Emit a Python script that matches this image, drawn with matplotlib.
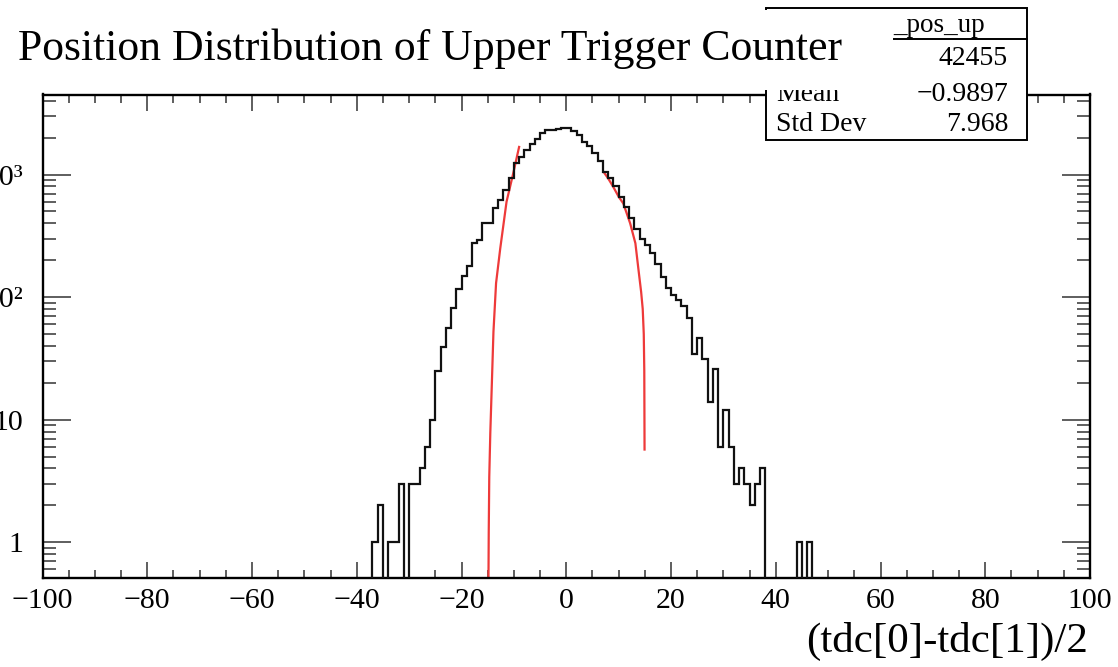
import numpy as np
import matplotlib
matplotlib.use("Agg")
import matplotlib.pyplot as plt
from matplotlib.ticker import MultipleLocator, FixedLocator, FixedFormatter, NullFormatter
from matplotlib.patches import Rectangle
from matplotlib.lines import Line2D

plt.rcParams['font.family'] = ['Liberation Serif', 'DejaVu Serif']

# ---------------- data ----------------
title = "Position Distribution of Upper Trigger Counter"
x_label = "(tdc[0]-tdc[1])/2"
hist_name = "_pos_up"
stat_labels = ["", "Mean", "Std Dev"]   # the "Entries" label is hidden behind the title pad
stat_values = ["42455", "\u22120.9897", "7.968"]

x_range = (-100, 100)
first_bin = -37          # left edge of the first listed bin
bin_width = 1
counts = [
    1, 2, 0, 1, 1, 3, 0, 3, 3, 4,              # -37 .. -28
    6, 10, 25, 39, 56, 82, 117, 150, 180, 274, # -27 .. -18
    295, 399, 405, 529, 618, 746, 929, 1231, 1400, 1581,  # -17 .. -8
    1792, 1950, 2163, 2290, 2300, 2340, 2376, 2376, 2250, 2100,  # -7 .. 2
    1850, 1700, 1500, 1300, 1050, 930, 800, 660, 540, 440,  # 3 .. 12
    360, 300, 265, 230, 185, 145, 118, 104, 94, 84,  # 13 .. 22
    68, 34, 46, 31, 14, 26, 6, 12, 6, 3,       # 23 .. 32
    4, 3, 2, 3, 4, 0, 0, 0, 0, 0,              # 33 .. 42
    0, 1, 0, 1,                                # 43 .. 46
]

fit_left_x = [-14.88, -14.8, -14.7, -14.5, -14.2, -13.9, -13.4, -12.6, -11.4, -10.2, -9.0]
fit_left_y = [0.3, 1.2, 3.4, 7.8, 20, 52, 130, 250, 600, 990, 1680]
fit_right_x = [7.1, 8.0, 9.0, 10.0, 10.9, 12.2, 13.2, 13.8, 14.3, 14.6, 14.8, 14.9, 14.95]
fit_right_y = [1055, 930, 790, 660, 580, 400, 275, 166, 110, 80, 50, 25, 5.7]

x_ticks = [-100, -80, -60, -40, -20, 0, 20, 40, 60, 80, 100]
x_tick_labels = ["\u2212100", "\u221280", "\u221260", "\u221240", "\u221220", "0",
                 "20", "40", "60", "80", "100"]
y_ticks = [1, 10, 100, 1000]
y_tick_labels = ["1", "10", "10\u00b2", "10\u00b3"]
y_range = (0.51, 4500)

# ---------------- figure ----------------
W, H = 1118, 667
fig = plt.figure(figsize=(W / 100, H / 100), dpi=100)
fig.patch.set_facecolor('white')

def fx(px):
    return px / W

def fy(py):
    return 1 - py / H

ax_l, ax_r, ax_t, ax_b = 42.5, 1090, 94.5, 578
ax = fig.add_axes([fx(ax_l), fy(ax_b), fx(ax_r) - fx(ax_l), fy(ax_t) - fy(ax_b)])

edges = np.arange(x_range[0], x_range[1] + bin_width, bin_width)
vals = np.zeros(len(edges) - 1)
start = int((first_bin - x_range[0]) / bin_width)
vals[start:start + len(counts)] = counts
vals_draw = np.where(vals > 0, vals, 1e-3)

ax.stairs(vals_draw, edges, baseline=None, color='#111111', lw=1.6, zorder=3)
ax.plot(fit_left_x, fit_left_y, color='#ee3a3a', lw=1.6, zorder=2)
ax.plot(fit_right_x, fit_right_y, color='#ee3a3a', lw=1.6, zorder=2)

ax.set_yscale('log')
ax.set_xlim(*x_range)
ax.set_ylim(*y_range)

ax.xaxis.set_major_locator(FixedLocator(x_ticks))
ax.xaxis.set_major_formatter(FixedFormatter(x_tick_labels))
ax.xaxis.set_minor_locator(MultipleLocator(5))

minor_y = [m * 10.0 ** e for e in range(-1, 4) for m in range(2, 10)]
ax.yaxis.set_major_locator(FixedLocator(y_ticks))
ax.yaxis.set_major_formatter(FixedFormatter(y_tick_labels))
ax.yaxis.set_minor_locator(FixedLocator(minor_y))
ax.yaxis.set_minor_formatter(NullFormatter())

ax.tick_params(axis='both', which='both', direction='in', top=True, right=True,
               width=1.1, color='#333333')
ax.tick_params(axis='x', which='major', length=11.5, pad=7, labelsize=21.5)
ax.tick_params(axis='x', which='minor', length=5.5)
ax.tick_params(axis='y', which='major', length=20, pad=14, labelsize=21.5)
ax.tick_params(axis='y', which='minor', length=9.5)
for s in ax.spines.values():
    s.set_linewidth(1.7)

# x axis title
fig.text(fx(1088), fy(652), x_label, ha='right', va='baseline', fontsize=31)

# ---------------- stats box ----------------
bx0, bx1, by0, by1 = 766, 1027, 8, 140
fig.patches.append(Rectangle((fx(bx0), fy(by1)), fx(bx1) - fx(bx0), fy(by0) - fy(by1),
                             transform=fig.transFigure, facecolor='white',
                             edgecolor='black', lw=1.4, zorder=5))
fig.lines.append(Line2D([fx(bx0), fx(bx1)], [fy(39), fy(39)], transform=fig.transFigure,
                        color='black', lw=1.4, zorder=6))
fig.text(fx(893), fy(32), hist_name, ha='left', va='baseline', fontsize=19.5, zorder=6)
row_y = [65, 101, 131]
for lab, val, yy in zip(stat_labels, stat_values, row_y):
    if lab:
        fig.text(fx(776), fy(yy), lab, ha='left', va='baseline', fontsize=20, zorder=6)
    fig.text(fx(1008), fy(yy), val, ha='right', va='baseline', fontsize=20, zorder=6)

# title pad (covers part of the stats box)
fig.patches.append(Rectangle((fx(0), fy(90)), fx(893), fy(10) - fy(90),
                             transform=fig.transFigure, facecolor='white',
                             edgecolor='none', zorder=7))
fig.text(fx(18), fy(60), title, ha='left', va='baseline', fontsize=31.5, zorder=8)

fig.savefig('out.png', dpi=100, facecolor='white')
